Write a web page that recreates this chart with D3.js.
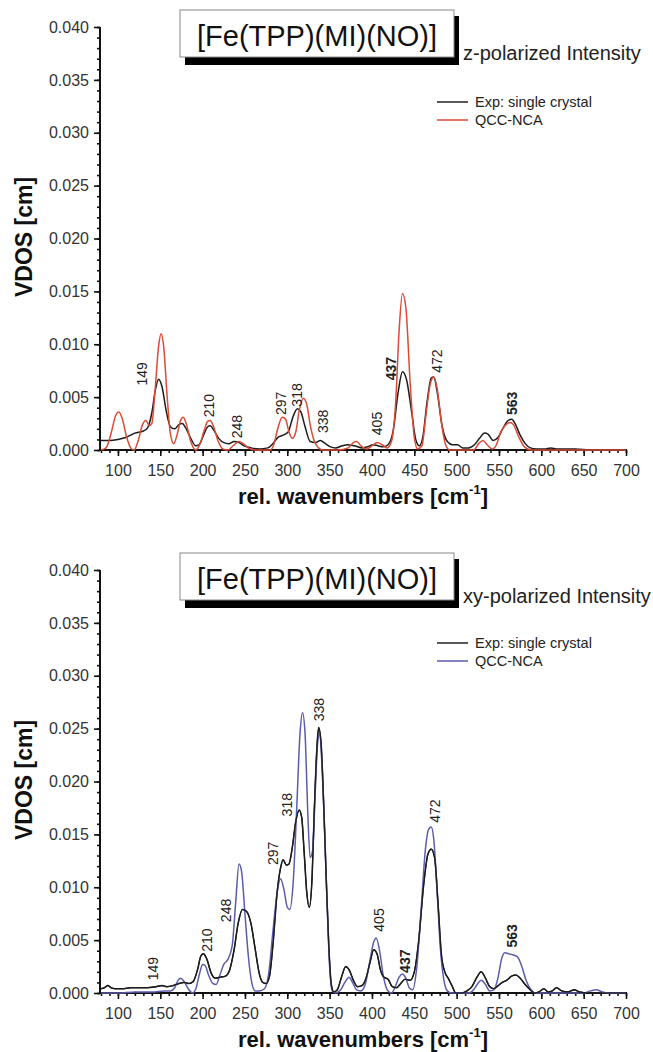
<!DOCTYPE html>
<html>
<head>
<meta charset="utf-8">
<script src="https://cdn.jsdelivr.net/npm/d3@7"></script>
<style>
  html, body { margin: 0; padding: 0; background: #fff; }
  svg { display: block; font-family: "Liberation Sans", Arial, sans-serif; }
</style>
</head>
<body>
<svg id="chart" width="653" height="1052"></svg>
<script>
// ---------------- DATA ----------------
const xTicks = [100,150,200,250,300,350,400,450,500,550,600,650,700];
const yTicks = [0, 0.005, 0.010, 0.015, 0.020, 0.025, 0.030, 0.035, 0.040];
const compound = "[Fe(TPP)(MI)(NO)]";
const subtitles = ["z-polarized Intensity", "xy-polarized Intensity"];
const seriesNames = ["Exp: single crystal", "QCC-NCA"];

// z-polarized: experiment (wavenumber, VDOS)
const zExp = [[80,0.0009],[90,0.0009],[100,0.001],[110,0.0012],[120,0.0016],[130,0.0018],[135,0.0021],[140,0.0035],[144,0.0056],[148,0.0067],[152,0.006],[157,0.0037],[162,0.0022],[167,0.002],[172,0.0024],[176,0.0025],[180,0.0021],[186,0.0011],[192,0.0004],[196,0.0005],[201,0.0014],[206,0.0022],[209,0.0023],[213,0.0019],[219,0.0011],[225,0.0007],[231,0.0006],[237,0.0008],[243,0.0007],[249,0.0004],[257,0.0002],[267,0.0001],[277,0.0002],[283,0.0006],[289,0.0012],[295,0.0014],[301,0.0017],[307,0.0032],[312,0.0039],[316,0.0036],[321,0.0022],[327,0.0008],[333,0.0007],[339,0.0009],[345,0.0006],[351,0.0003],[357,0.0002],[365,0.0004],[371,0.0005],[379,0.0004],[389,0.0002],[395,0.0003],[401,0.0005],[407,0.0004],[413,0.0003],[419,0.0005],[425,0.0018],[431,0.0055],[436,0.0074],[441,0.0066],[447,0.0035],[452,0.0009],[456,0.0004],[460,0.0012],[465,0.0045],[470,0.0068],[473,0.0069],[477,0.0055],[483,0.0022],[489,0.0008],[495,0.0005],[501,0.0005],[507,0.0002],[514,0.0002],[521,0.0005],[527,0.0011],[533,0.0016],[537,0.0015],[543,0.0009],[549,0.0012],[555,0.0021],[561,0.0028],[565,0.0029],[569,0.0025],[575,0.0014],[581,0.0006],[587,0.0002],[594,0.0001],[604,0.0001],[611,0.0002],[619,0.0001],[640,0.0001],[660,0],[700,0]];

// z-polarized: QCC-NCA
const zQcc = [[80,0],[86,0.0002],[92,0.0016],[97,0.0032],[101,0.0036],[105,0.003],[110,0.0013],[115,0.0002],[119,0],[124,0.0009],[129,0.0024],[133,0.0028],[137,0.0023],[140,0.0025],[144,0.0058],[148,0.0098],[151,0.011],[154,0.0098],[158,0.0052],[162,0.0015],[166,0.0006],[170,0.0015],[174,0.0028],[177,0.0031],[181,0.0024],[186,0.0008],[192,0],[197,0.0006],[202,0.0019],[206,0.0027],[209,0.0028],[213,0.0022],[218,0.0009],[224,0.0001],[230,0],[236,0.0004],[243,0.0008],[248,0.0006],[254,0.0002],[262,0],[280,0],[284,0.0005],[289,0.0021],[294,0.0031],[298,0.0029],[302,0.0017],[306,0.0011],[310,0.0017],[314,0.0037],[319,0.0049],[323,0.0043],[327,0.0024],[332,0.0008],[337,0.0002],[342,0],[360,0],[372,0.0002],[378,0.0007],[382,0.0008],[387,0.0004],[394,0.0001],[400,0.0004],[406,0.0007],[412,0.0005],[418,0.0002],[423,0.0008],[428,0.0045],[432,0.0112],[436,0.0148],[440,0.0135],[445,0.0065],[450,0.0012],[454,0.0001],[459,0.0004],[464,0.0035],[469,0.0063],[473,0.0069],[477,0.0058],[482,0.0026],[487,0.0005],[492,0],[520,0],[526,0.0006],[531,0.0009],[536,0.0005],[542,0.0001],[547,0.0005],[552,0.0017],[557,0.0023],[563,0.0026],[567,0.0024],[573,0.0013],[580,0.0003],[588,0],[700,0]];

// xy-polarized: experiment
const xyExp = [[80,0.0004],[84,0.0005],[88,0.0007],[92,0.0005],[97,0.0004],[105,0.0004],[115,0.0005],[125,0.0005],[135,0.0005],[145,0.0006],[152,0.0007],[158,0.0006],[165,0.0007],[172,0.0009],[178,0.001],[184,0.0009],[189,0.0011],[194,0.0022],[198,0.0035],[201,0.0037],[205,0.0032],[210,0.0019],[215,0.0014],[221,0.0015],[227,0.0016],[232,0.0022],[237,0.004],[242,0.0066],[247,0.0079],[252,0.0077],[257,0.0066],[262,0.0042],[267,0.0018],[271,0.001],[275,0.0009],[279,0.0016],[283,0.0045],[288,0.0095],[292,0.0118],[295,0.0126],[299,0.0121],[302,0.0122],[306,0.0138],[310,0.0162],[314,0.0173],[317,0.0166],[320,0.0132],[323,0.0095],[326,0.0081],[329,0.0105],[332,0.0175],[335,0.0232],[337,0.0251],[340,0.0235],[343,0.0178],[346,0.0108],[349,0.0045],[352,0.0008],[355,0.0001],[359,0.0003],[364,0.0015],[369,0.0025],[373,0.0022],[378,0.0012],[383,0.0006],[388,0.0007],[393,0.0014],[398,0.003],[402,0.0041],[406,0.0037],[410,0.0022],[414,0.0015],[419,0.0013],[424,0.0006],[429,0.0005],[434,0.0009],[439,0.0013],[445,0.0012],[450,0.002],[455,0.0048],[461,0.0102],[466,0.0131],[470,0.0136],[474,0.0128],[478,0.0085],[482,0.0036],[486,0.002],[490,0.0014],[495,0.0006],[499,0],[506,0],[512,0.0002],[518,0.0006],[524,0.0015],[529,0.002],[534,0.0014],[539,0.0006],[544,0.0004],[549,0.0007],[554,0.001],[559,0.0012],[565,0.0016],[570,0.0017],[575,0.0014],[581,0.0008],[587,0.0003],[592,0],[597,0.0001],[603,0.0004],[608,0.0001],[613,0.0002],[618,0.0005],[624,0.0002],[631,0.0001],[639,0.0003],[645,0.0001],[655,0],[700,0]];

// xy-polarized: QCC-NCA
const xyQcc = [[80,0],[100,0],[120,0.0001],[140,0.0001],[155,0.0002],[162,0.0002],[167,0.0005],[171,0.0012],[174,0.0014],[178,0.0011],[183,0.0004],[188,0],[192,0.0004],[196,0.0017],[200,0.0027],[203,0.0026],[207,0.0017],[212,0.0009],[216,0.0008],[220,0.0016],[225,0.0027],[230,0.0032],[235,0.0045],[239,0.0085],[243,0.0122],[246,0.0115],[250,0.0075],[254,0.0035],[258,0.001],[262,0.0002],[267,0.0002],[273,0.0004],[278,0.0018],[283,0.0058],[288,0.0095],[292,0.0108],[296,0.0098],[300,0.0081],[303,0.0079],[307,0.0105],[311,0.0172],[315,0.0245],[318,0.0265],[321,0.0245],[324,0.0175],[327,0.0128],[330,0.0135],[333,0.019],[336,0.0238],[338,0.0245],[341,0.0215],[344,0.0155],[347,0.0085],[350,0.0025],[353,0.0002],[357,0],[363,0.0003],[368,0.001],[373,0.0015],[377,0.001],[382,0.0003],[387,0.0002],[392,0.0008],[397,0.0028],[402,0.0048],[405,0.0052],[409,0.004],[413,0.0018],[418,0.0003],[423,0],[427,0.0005],[432,0.0015],[436,0.0018],[440,0.0014],[444,0.0005],[448,0.0003],[453,0.0025],[458,0.0078],[463,0.0135],[467,0.0155],[470,0.0157],[473,0.0145],[477,0.0095],[481,0.004],[485,0.0012],[489,0.0002],[494,0],[515,0],[520,0.0003],[525,0.0009],[529,0.0012],[534,0.0008],[539,0.0002],[544,0.0003],[549,0.0015],[553,0.0032],[557,0.0038],[562,0.0037],[567,0.0036],[572,0.0034],[577,0.0025],[582,0.0012],[587,0.0004],[593,0],[650,0],[658,0.0002],[665,0.0003],[672,0.0001],[680,0],[700,0]];

// peak annotations: label, wavenumber position, VDOS level of label base
const peakText = ["149","210","248","297","318","338","405","437","472","563"];
const peakBold = ["437","563"];
const zPeakX = [129, 208, 241, 293, 312, 342, 406, 423, 477, 565];
const zPeakY = [0.0061, 0.0031, 0.0011, 0.0033, 0.0041, 0.0016, 0.0014, 0.0066, 0.0073, 0.0033];
const xyPeakX = [141, 205, 228, 283, 300, 338, 409, 439, 474, 565];
const xyPeakY = [0.0012, 0.0039, 0.0067, 0.0121, 0.0167, 0.0257, 0.0058, 0.0019, 0.0161, 0.0043];

// ---------------- DRAW ----------------
const svg = d3.select("#chart");
const W = 653;
svg.append("rect").attr("width", W).attr("height", 1052).attr("fill", "#fff");

const x = d3.scaleLinear().domain([80, 700]).range([101, 626]);
const font = '"Liberation Sans", Arial, sans-serif';

function drawPanel(cfg) {
  const g = svg.append("g");
  const y = d3.scaleLinear().domain([0, 0.04]).range([cfg.y0, cfg.y0 - 423]);

  // title box with shadow
  g.append("rect").attr("x", 185).attr("y", cfg.boxTop + 6).attr("width", 274).attr("height", 49).attr("fill", "#000");
  g.append("rect").attr("x", 180).attr("y", cfg.boxTop).attr("width", 274).attr("height", 47)
    .attr("fill", "#fff").attr("stroke", "#888").attr("stroke-width", 1);
  g.append("text").attr("x", 317).attr("y", cfg.boxTop + 36).attr("text-anchor", "middle")
    .attr("font-size", 29).attr("fill", "#111").text(compound);
  g.append("text").attr("x", 463).attr("y", cfg.boxTop + 50)
    .attr("font-size", 20).attr("fill", "#222").text(cfg.subtitle);

  // legend
  const legColors = ["#222", cfg.color];
  seriesNames.forEach((n, i) => {
    const ly = cfg.legTop + i * 18;
    g.append("line").attr("x1", 437).attr("x2", 468).attr("y1", ly).attr("y2", ly)
      .attr("stroke", legColors[i]).attr("stroke-width", 1.5);
    g.append("text").attr("x", 475).attr("y", ly + 5).attr("font-size", 14.5).attr("fill", "#222").text(n);
  });

  // y axis
  const yMinor = d3.axisLeft(y).tickValues(d3.range(0, 41).map(d => d / 1000)).tickSize(3).tickFormat("");
  const gyMin = g.append("g").attr("transform", "translate(100,0)").call(yMinor);
  const yMajor = d3.axisLeft(y).tickValues(yTicks).tickSize(6).tickPadding(5).tickFormat(d3.format(".3f"));
  const gy = g.append("g").attr("transform", "translate(100,0)").call(yMajor);
  [gyMin, gy].forEach(a => {
    a.select(".domain").remove();
    a.selectAll("line").attr("stroke", "#111").attr("stroke-width", 1.6);
  });
  gy.selectAll("text").attr("font-size", 16).attr("font-family", font).attr("fill", "#333");
  g.append("line").attr("x1", 100).attr("x2", 100).attr("y1", y(0.04)).attr("y2", y(0) + 1)
    .attr("stroke", "#111").attr("stroke-width", 2);

  // x axis
  const xMinor = d3.axisBottom(x).tickValues(d3.range(80, 701, 10)).tickSize(3).tickFormat("");
  const gxMin = g.append("g").attr("transform", `translate(0,${cfg.y0})`).call(xMinor);
  const xMajor = d3.axisBottom(x).tickValues(xTicks).tickSize(6).tickPadding(9).tickFormat(d3.format("d"));
  const gx = g.append("g").attr("transform", `translate(0,${cfg.y0})`).call(xMajor);
  [gxMin, gx].forEach(a => {
    a.select(".domain").remove();
    a.selectAll("line").attr("stroke", "#111").attr("stroke-width", 1.6);
  });
  gx.selectAll("text").attr("font-size", 16).attr("font-family", font).attr("fill", "#333");
  g.append("line").attr("x1", 99).attr("x2", 627).attr("y1", cfg.y0).attr("y2", cfg.y0)
    .attr("stroke", "#111").attr("stroke-width", 2);

  // axis titles
  g.append("text").attr("transform", `translate(32,${cfg.y0 - 213}) rotate(-90)`)
    .attr("text-anchor", "middle").attr("font-size", 23).attr("font-weight", "bold").attr("fill", "#111")
    .text("VDOS [cm]");
  const xt = g.append("text").attr("x", 363).attr("y", cfg.y0 + 54).attr("text-anchor", "middle")
    .attr("font-size", 22).attr("font-weight", "bold").attr("fill", "#111");
  xt.append("tspan").text("rel. wavenumbers [cm");
  xt.append("tspan").attr("font-size", 13).attr("dy", -10).text("-1");
  xt.append("tspan").attr("dy", 10).text("]");

  // curves
  const line = d3.line().x(d => x(d[0])).y(d => y(d[1])).curve(d3.curveMonotoneX);
  g.append("path").datum(cfg.exp).attr("d", line).attr("fill", "none")
    .attr("stroke", "#1c1c1c").attr("stroke-width", 1.5);
  g.append("path").datum(cfg.qcc).attr("d", line).attr("fill", "none")
    .attr("stroke", cfg.color).attr("stroke-width", 1.5);
  // redraw exp lightly on top where it dominates (keeps black visible like reference)
  g.append("path").datum(cfg.exp).attr("d", line).attr("fill", "none")
    .attr("stroke", "#1c1c1c").attr("stroke-width", 1.2).attr("opacity", cfg.expTopOpacity);

  // peak labels
  peakText.forEach((t, i) => {
    g.append("text")
      .attr("transform", `translate(${x(cfg.px[i])},${y(cfg.py[i])}) rotate(-90)`)
      .attr("dy", "0.35em").attr("font-size", 14)
      .attr("font-weight", peakBold.includes(t) ? "bold" : "normal")
      .attr("fill", "#222").text(t);
  });
}

drawPanel({ y0: 450, boxTop: 10, legTop: 102, subtitle: subtitles[0], color: "#dd4a36",
  exp: zExp, qcc: zQcc, px: zPeakX, py: zPeakY, expTopOpacity: 0 });
drawPanel({ y0: 993, boxTop: 553, legTop: 643, subtitle: subtitles[1], color: "#5b5cab",
  exp: xyExp, qcc: xyQcc, px: xyPeakX, py: xyPeakY, expTopOpacity: 1 });
</script>
</body>
</html>
